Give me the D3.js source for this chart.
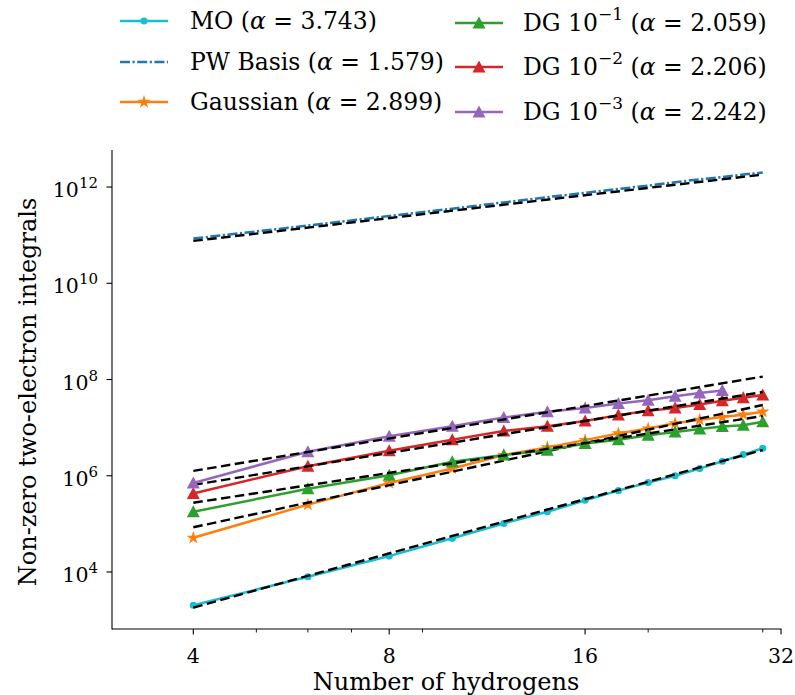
<!DOCTYPE html>
<html>
<head>
<meta charset="utf-8">
<script src="https://cdn.jsdelivr.net/npm/d3@7"></script>
<style>
  body { margin: 0; background: #fff; }
  svg { display: block; font-family: "DejaVu Serif", serif; }
</style>
</head>
<body>
<svg id="chart"></svg>
<script>
let w = 795
let h = 695

// number of hydrogens
let hydrogens = [4, 6, 8, 10, 12, 14, 16, 18, 20, 22, 24, 26, 28, 30]

// non-zero two-electron integrals
let moVals = [2.04e3, 7.94e3, 2.14e4, 5.01e4, 1.02e5, 1.78e5, 3.09e5, 4.90e5, 7.24e5, 1.00e6, 1.41e6, 2.00e6, 2.75e6, 3.72e6]
let pwVals = [8.51e10, 1.58e11, 2.51e11, 3.55e11, 4.79e11, 6.17e11, 7.59e11, 9.12e11, 1.07e12, 1.26e12, 1.45e12, 1.62e12, 1.82e12, 2.00e12]
let gaussVals = [5.13e4, 2.51e5, 7.08e5, 1.41e6, 2.69e6, 3.89e6, 5.50e6, 7.59e6, 9.55e6, 1.23e7, 1.45e7, 1.66e7, 1.86e7, 2.14e7]
let dg1Vals = [1.78e5, 5.37e5, 1.02e6, 1.95e6, 2.69e6, 3.39e6, 4.68e6, 5.62e6, 6.92e6, 8.13e6, 9.33e6, 1.05e7, 1.12e7, 1.32e7]
let dg2Vals = [4.27e5, 1.58e6, 3.31e6, 5.62e6, 8.51e6, 1.07e7, 1.38e7, 1.82e7, 2.24e7, 2.57e7, 3.02e7, 3.63e7, 4.17e7, 4.79e7]
let dg3Vals = [7.08e5, 3.16e6, 6.61e6, 1.07e7, 1.62e7, 2.14e7, 2.57e7, 3.16e7, 3.72e7, 4.47e7, 5.25e7, 5.89e7]

// fitted power laws, value at first and last hydrogen count
let fitX = [4, 30]
let moFit = [1.82e3, 3.43e6]
let pwFit = [7.59e10, 1.82e12]
let gaussFit = [8.51e4, 2.95e7]
let dg1Fit = [2.75e5, 1.74e7]
let dg2Fit = [6.46e5, 5.50e7]
let dg3Fit = [1.26e6, 1.15e8]

let alphas = [3.743, 1.579, 2.899, 2.059, 2.206, 2.242]

let xTicks = [4, 8, 16, 32]
let xMinor = [5, 6, 7, 9, 20, 30]
let yTicks = [1e4, 1e6, 1e8, 1e10, 1e12]

let series = [
  {name: 'MO', sup: null, vals: moVals, fit: moFit, color: '#17becf', marker: 'circle', dash: null},
  {name: 'PW Basis', sup: null, vals: pwVals, fit: pwFit, color: '#1f77b4', marker: null, dash: '10,2.5,2.2,2.5'},
  {name: 'Gaussian', sup: null, vals: gaussVals, fit: gaussFit, color: '#ff7f0e', marker: 'star', dash: null},
  {name: 'DG 10', sup: '\u22121', vals: dg1Vals, fit: dg1Fit, color: '#2ca02c', marker: 'tri', dash: null},
  {name: 'DG 10', sup: '\u22122', vals: dg2Vals, fit: dg2Fit, color: '#d62728', marker: 'tri', dash: null},
  {name: 'DG 10', sup: '\u22123', vals: dg3Vals, fit: dg3Fit, color: '#9467bd', marker: 'tri', dash: null}
]

let svg = d3.select('#chart').attr('width', w).attr('height', h)

let x = d3.scaleLog().domain([3, 32]).range([112, 781])
let y = d3.scaleLog().domain([Math.pow(10, 2.815), Math.pow(10, 12.77)]).range([629, 150])

let markerPath = (m) => {
  if (m === 'circle') return d3.symbol(d3.symbolCircle, 40)()
  if (m === 'star') return d3.symbol(d3.symbolStar, 55)()
  if (m === 'tri') return 'M0,-6.5L6.5,5.5L-6.5,5.5Z'
  return null
}

// axes
let xAxis = svg.append('g').attr('transform', 'translate(0,629)')
xAxis.append('line').attr('x1', 112).attr('x2', 781.5).attr('stroke', '#000').attr('stroke-width', 1.1)
xAxis.selectAll('.maj').data(xTicks).join('line')
  .attr('x1', d => x(d)).attr('x2', d => x(d)).attr('y1', 0).attr('y2', 5.5)
  .attr('stroke', '#000').attr('stroke-width', 1.1)
xAxis.selectAll('.mnr').data(xMinor).join('line')
  .attr('x1', d => x(d)).attr('x2', d => x(d)).attr('y1', 0).attr('y2', 3.5)
  .attr('stroke', '#000').attr('stroke-width', 0.9)
xAxis.selectAll('text').data(xTicks).join('text')
  .attr('x', d => x(d)).attr('y', 34)
  .attr('text-anchor', 'middle').attr('font-size', 20.5)
  .text(d => d)

let yAxis = svg.append('g').attr('transform', 'translate(112,0)')
yAxis.append('line').attr('y1', 150).attr('y2', 629.5).attr('stroke', '#000').attr('stroke-width', 1.1)
yAxis.selectAll('line.t').data(yTicks).join('line')
  .attr('class', 't')
  .attr('x1', -5.5).attr('x2', 0).attr('y1', d => y(d)).attr('y2', d => y(d))
  .attr('stroke', '#000').attr('stroke-width', 1.1)
let yLab = yAxis.selectAll('text').data(yTicks).join('text')
  .attr('x', -14).attr('y', d => y(d) + 10)
  .attr('text-anchor', 'end').attr('font-size', 20.5)
yLab.append('tspan').text('10')
yLab.append('tspan').attr('dy', -9).attr('font-size', 15).text(d => Math.round(Math.log10(d)))

svg.append('text')
  .attr('x', 446).attr('y', 690)
  .attr('text-anchor', 'middle').attr('font-size', 24)
  .text('Number of hydrogens')

svg.append('text')
  .attr('transform', 'translate(36,392) rotate(-90)')
  .attr('text-anchor', 'middle').attr('font-size', 24)
  .text('Non-zero two-electron integrals')

// data lines, markers and fits
let line = d3.line().x(d => x(d[0])).y(d => y(d[1]))

series.forEach((s) => {
  let pts = s.vals.map((v, i) => [hydrogens[i], v])
  svg.append('path')
    .attr('d', line(pts))
    .attr('fill', 'none').attr('stroke', s.color).attr('stroke-width', 2.5)
    .attr('stroke-dasharray', s.dash)
  if (s.marker) {
    svg.append('g').selectAll('path').data(pts).join('path')
      .attr('d', markerPath(s.marker))
      .attr('transform', d => `translate(${x(d[0])},${y(d[1])})`)
      .attr('fill', s.color)
  }
  svg.append('path')
    .attr('d', line(fitX.map((v, i) => [v, s.fit[i]])))
    .attr('fill', 'none').attr('stroke', '#000').attr('stroke-width', 2.4)
    .attr('stroke-dasharray', '9.5,4.5')
})

// legend
let legRows = [
  {x: 120, y: 21}, {x: 120, y: 62}, {x: 120, y: 102},
  {x: 455, y: 23}, {x: 455, y: 67}, {x: 455, y: 112}
]
series.forEach((s, i) => {
  let g = svg.append('g').attr('transform', `translate(${legRows[i].x},${legRows[i].y})`)
  g.append('line').attr('x1', 0).attr('x2', 48).attr('y1', 0).attr('y2', 0)
    .attr('stroke', s.color).attr('stroke-width', 2.5)
    .attr('stroke-dasharray', s.dash)
  if (s.marker) {
    g.append('path').attr('d', markerPath(s.marker)).attr('transform', 'translate(24,0)').attr('fill', s.color)
  }
  let t = g.append('text').attr('x', s.sup ? 68 : 70).attr('y', 8).attr('font-size', 23.5)
  t.append('tspan').text(s.name)
  if (s.sup) {
    t.append('tspan').attr('dy', -11).attr('font-size', 17).text(s.sup)
    t.append('tspan').attr('dy', 11).text(' (')
  } else {
    t.append('tspan').text(' (')
  }
  t.append('tspan').attr('font-style', 'italic').text('\u03b1')
  t.append('tspan').text(' = ' + alphas[i].toFixed(3) + ')')
})
</script>
</body>
</html>
